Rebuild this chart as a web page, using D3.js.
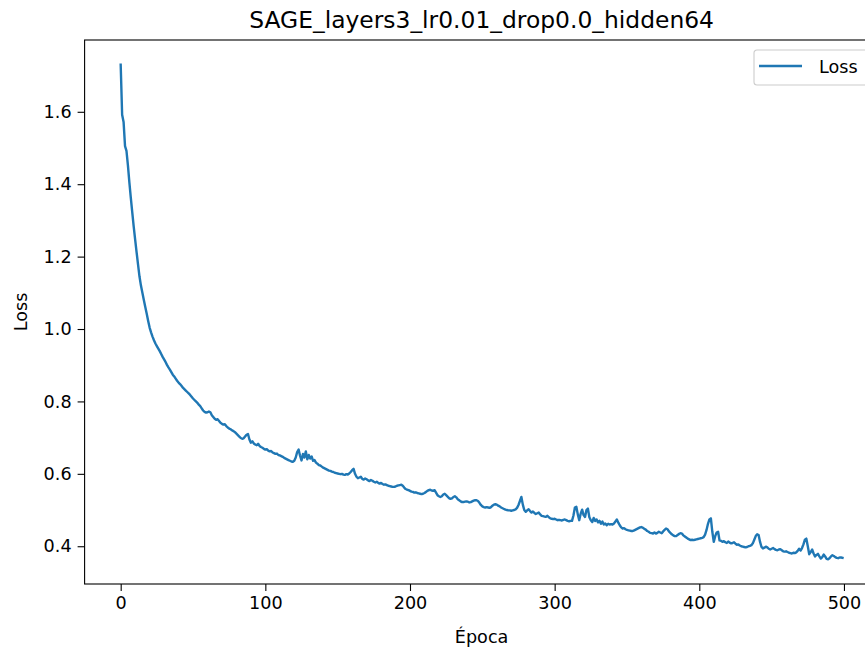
<!DOCTYPE html>
<html>
<head>
<meta charset="utf-8">
<script src="https://cdn.jsdelivr.net/npm/d3@7"></script>
<style>
  body { margin: 0; background: #fff; }
  text { font-family: "DejaVu Sans", sans-serif; fill: #000; }
</style>
</head>
<body>
<div id="chart"></div>
<script>
const title = "SAGE_layers3_lr0.01_drop0.0_hidden64";
const xLabel = "Época";
const yLabel = "Loss";
const seriesName = "Loss";

const xTicks = [0, 100, 200, 300, 400, 500];
const yTicks = [0.4, 0.6, 0.8, 1.0, 1.2, 1.4, 1.6];

// loss per epoch (0..499)
const loss = [
  1.730, 1.592, 1.572, 1.505, 1.492, 1.452, 1.405, 1.362, 1.322, 1.283,
  1.247, 1.212, 1.178, 1.145, 1.120, 1.100, 1.080, 1.061, 1.042, 1.022,
  1.004, 0.991, 0.979, 0.969, 0.960, 0.953, 0.946, 0.939, 0.931, 0.923,
  0.916, 0.909, 0.901, 0.894, 0.888, 0.881, 0.874, 0.869, 0.863, 0.857,
  0.852, 0.848, 0.843, 0.838, 0.834, 0.830, 0.826, 0.822, 0.818, 0.813,
  0.808, 0.804, 0.800, 0.796, 0.791, 0.787, 0.781, 0.775, 0.771, 0.769,
  0.770, 0.772, 0.770, 0.762, 0.757, 0.752, 0.749, 0.751, 0.746, 0.741,
  0.738, 0.736, 0.737, 0.732, 0.728, 0.725, 0.723, 0.720, 0.718, 0.715,
  0.711, 0.707, 0.703, 0.699, 0.697, 0.698, 0.703, 0.708, 0.710, 0.695,
  0.686, 0.690, 0.684, 0.681, 0.679, 0.683, 0.677, 0.674, 0.672, 0.669,
  0.667, 0.668, 0.664, 0.662, 0.663, 0.659, 0.657, 0.655, 0.656, 0.652,
  0.651, 0.649, 0.647, 0.644, 0.642, 0.640, 0.638, 0.636, 0.634, 0.633,
  0.636, 0.645, 0.660, 0.667, 0.650, 0.637, 0.655, 0.645, 0.662, 0.640,
  0.652, 0.642, 0.648, 0.636, 0.638, 0.631, 0.628, 0.624, 0.623, 0.620,
  0.617, 0.615, 0.613, 0.611, 0.609, 0.608, 0.606, 0.605, 0.603, 0.602,
  0.601, 0.600, 0.599, 0.600, 0.598, 0.597, 0.599, 0.598, 0.601, 0.605,
  0.610, 0.614, 0.600, 0.592, 0.588, 0.590, 0.592, 0.586, 0.584, 0.587,
  0.585, 0.582, 0.580, 0.583, 0.581, 0.578, 0.576, 0.578, 0.575, 0.573,
  0.575, 0.572, 0.570, 0.571, 0.569, 0.567, 0.566, 0.565, 0.564, 0.564,
  0.565, 0.567, 0.568, 0.569, 0.570, 0.567, 0.562, 0.558, 0.556, 0.555,
  0.553, 0.551, 0.550, 0.548, 0.549, 0.547, 0.546, 0.545, 0.544, 0.545,
  0.547, 0.550, 0.553, 0.555, 0.556, 0.554, 0.553, 0.555, 0.548, 0.541,
  0.538, 0.536, 0.538, 0.543, 0.545, 0.541, 0.537, 0.533, 0.531, 0.532,
  0.536, 0.538, 0.535, 0.530, 0.527, 0.524, 0.522, 0.522, 0.523, 0.524,
  0.523, 0.521, 0.522, 0.524, 0.526, 0.527, 0.527, 0.525, 0.520, 0.514,
  0.510, 0.508, 0.507, 0.508, 0.507, 0.506, 0.508, 0.512, 0.515, 0.516,
  0.515, 0.512, 0.510, 0.507, 0.505, 0.503, 0.501, 0.500, 0.499, 0.499,
  0.498, 0.499, 0.500, 0.502, 0.506, 0.514, 0.525, 0.536, 0.515, 0.500,
  0.495, 0.499, 0.502, 0.497, 0.493, 0.496, 0.492, 0.489, 0.491, 0.493,
  0.488, 0.484, 0.483, 0.482, 0.481, 0.484, 0.480, 0.477, 0.476, 0.475,
  0.476, 0.474, 0.472, 0.473, 0.472, 0.471, 0.473, 0.474, 0.472, 0.470,
  0.469, 0.470, 0.470, 0.485, 0.507, 0.509, 0.488, 0.472, 0.490, 0.501,
  0.486, 0.481, 0.500, 0.504, 0.480, 0.472, 0.467, 0.478, 0.470, 0.474,
  0.466, 0.470, 0.462, 0.468, 0.460, 0.463, 0.458, 0.462, 0.460, 0.461,
  0.460, 0.463, 0.468, 0.474, 0.465, 0.458, 0.452, 0.449, 0.450, 0.447,
  0.445, 0.444, 0.443, 0.442, 0.442, 0.444, 0.446, 0.448, 0.450, 0.452,
  0.453, 0.451, 0.448, 0.446, 0.442, 0.440, 0.437, 0.436, 0.435, 0.438,
  0.435, 0.437, 0.440, 0.438, 0.436, 0.441, 0.445, 0.449, 0.447, 0.441,
  0.437, 0.433, 0.430, 0.428, 0.428, 0.431, 0.434, 0.436, 0.435, 0.430,
  0.427, 0.424, 0.421, 0.419, 0.417, 0.418, 0.417, 0.418, 0.419, 0.420,
  0.421, 0.422, 0.423, 0.425, 0.432, 0.445, 0.462, 0.474, 0.477, 0.440,
  0.412, 0.428, 0.438, 0.440, 0.416, 0.415, 0.412, 0.414, 0.411, 0.409,
  0.413, 0.410, 0.408, 0.409, 0.411, 0.407, 0.404, 0.405, 0.402, 0.400,
  0.399, 0.398, 0.397, 0.398, 0.400, 0.401, 0.403, 0.408, 0.418, 0.428,
  0.433, 0.431, 0.412, 0.398, 0.394, 0.396, 0.399, 0.397, 0.393, 0.391,
  0.393, 0.395, 0.392, 0.390, 0.389, 0.391, 0.392, 0.389, 0.386, 0.385,
  0.386, 0.384, 0.382, 0.381, 0.380, 0.382, 0.381, 0.383, 0.387, 0.393,
  0.388, 0.395, 0.405, 0.418, 0.421, 0.400, 0.378, 0.384, 0.391, 0.380,
  0.372, 0.376, 0.379, 0.372, 0.366, 0.370, 0.377, 0.372, 0.365, 0.364,
  0.367, 0.372, 0.375, 0.373, 0.370, 0.368, 0.367, 0.369, 0.369, 0.368
];

const width = 865;
const height = 652;
const plot = { left: 84.6, right: 878.6, top: 40, bottom: 584 };
const lineColor = "#1f77b4";
const tickFont = 17.6;

const svg = d3.select("#chart").append("svg")
  .attr("width", width)
  .attr("height", height);

// matplotlib style 5% margins
const xExtent = [0, loss.length - 1];
const xPad = (xExtent[1] - xExtent[0]) * 0.05;
const yExtent = d3.extent(loss);
const yPad = (yExtent[1] - yExtent[0]) * 0.05;

const x = d3.scaleLinear()
  .domain([xExtent[0] - xPad, xExtent[1] + xPad])
  .range([plot.left, plot.right]);
const y = d3.scaleLinear()
  .domain([yExtent[0] - yPad, yExtent[1] + yPad])
  .range([plot.bottom, plot.top]);

const line = d3.line()
  .x((d, i) => x(i))
  .y(d => y(d));

svg.append("path")
  .datum(loss)
  .attr("fill", "none")
  .attr("stroke", lineColor)
  .attr("stroke-width", 2.4)
  .attr("stroke-linejoin", "round")
  .attr("stroke-linecap", "square")
  .attr("d", line);

const xAxis = svg.append("g")
  .attr("transform", `translate(0,${plot.bottom})`)
  .call(d3.axisBottom(x).tickValues(xTicks).tickSize(7).tickPadding(6).tickFormat(d3.format("d")));
const yAxis = svg.append("g")
  .attr("transform", `translate(${plot.left},0)`)
  .call(d3.axisLeft(y).tickValues(yTicks).tickSize(7).tickPadding(6).tickFormat(d3.format(".1f")));

[xAxis, yAxis].forEach(g => {
  g.select(".domain").remove();
  g.selectAll(".tick line").attr("stroke", "#000").attr("stroke-width", 1.1);
  g.selectAll(".tick text")
    .attr("fill", "#000")
    .style("font-family", "DejaVu Sans")
    .style("font-size", tickFont + "px");
});

// axes frame
svg.append("rect")
  .attr("x", plot.left).attr("y", plot.top)
  .attr("width", plot.right - plot.left).attr("height", plot.bottom - plot.top)
  .attr("fill", "none")
  .attr("stroke", "#000")
  .attr("stroke-width", 1.1);

svg.append("text")
  .attr("x", (plot.left + plot.right) / 2).attr("y", 28)
  .attr("text-anchor", "middle")
  .style("font-size", "23.4px")
  .text(title);

svg.append("text")
  .attr("x", (plot.left + plot.right) / 2).attr("y", 643)
  .attr("text-anchor", "middle")
  .style("font-size", tickFont + "px")
  .text(xLabel);

svg.append("text")
  .attr("transform", `translate(27,${(plot.top + plot.bottom) / 2}) rotate(-90)`)
  .attr("text-anchor", "middle")
  .style("font-size", tickFont + "px")
  .text(yLabel);

// legend
const legend = svg.append("g").attr("transform", "translate(754,50)");
legend.append("rect")
  .attr("width", 118).attr("height", 35)
  .attr("rx", 3)
  .attr("fill", "#fff")
  .attr("fill-opacity", 0.8)
  .attr("stroke", "#cccccc")
  .attr("stroke-width", 1.1);
legend.append("line")
  .attr("x1", 5).attr("x2", 48)
  .attr("y1", 16).attr("y2", 16)
  .attr("stroke", lineColor)
  .attr("stroke-width", 2.4);
legend.append("text")
  .attr("x", 65).attr("y", 23)
  .style("font-size", tickFont + "px")
  .text(seriesName);
</script>
</body>
</html>
